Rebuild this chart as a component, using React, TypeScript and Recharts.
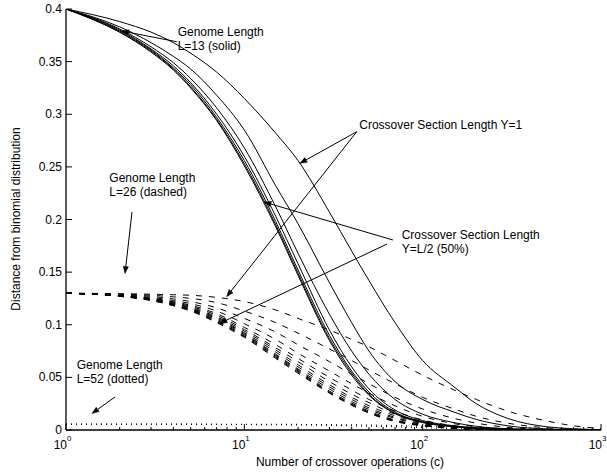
import React from 'react';
import { LineChart, Line, XAxis, YAxis, ReferenceLine, ReferenceDot } from 'recharts';

const FONT = '"Liberation Sans", Arial, Helvetica, sans-serif';

// number of crossover operations (log axis)
const crossovers = [1, 2, 3, 4, 5, 7, 10, 15, 20, 30, 40, 50, 70, 100, 150, 200, 300, 500, 700, 1000];

// Genome length L=13 (solid), crossover section length from Y=1 to Y=L/2
const solidY1 = [0.4, 0.388, 0.378, 0.368, 0.358, 0.34, 0.315, 0.282, 0.256, 0.207, 0.17, 0.142, 0.102, 0.066, 0.041, 0.025, 0.011, 0.003, 0.0012, 0.0004];
const solidY2 = [0.4, 0.383, 0.368, 0.355, 0.343, 0.318, 0.285, 0.232, 0.196, 0.14, 0.102, 0.075, 0.046, 0.029, 0.017, 0.01, 0.004, 0.001, 0.0004, 0.0001];
const solidY3 = [0.4, 0.381, 0.364, 0.349, 0.334, 0.306, 0.268, 0.212, 0.168, 0.11, 0.075, 0.053, 0.029, 0.015, 0.007, 0.0035, 0.0012, 0.0003, 0.0001, 0];
const solidY4 = [0.4, 0.38, 0.362, 0.346, 0.33, 0.3, 0.26, 0.203, 0.158, 0.095, 0.06, 0.039, 0.019, 0.009, 0.004, 0.002, 0.0008, 0.0002, 0.0001, 0];
const solidY5 = [0.4, 0.379, 0.361, 0.344, 0.328, 0.297, 0.256, 0.198, 0.152, 0.09, 0.056, 0.036, 0.017, 0.008, 0.0035, 0.0018, 0.0007, 0.0002, 0.0001, 0];
const solidY6 = [0.4, 0.378, 0.36, 0.343, 0.326, 0.295, 0.253, 0.195, 0.149, 0.087, 0.054, 0.034, 0.016, 0.0075, 0.0033, 0.0016, 0.0006, 0.0001, 0, 0];
const solidY7 = [0.4, 0.378, 0.359, 0.342, 0.325, 0.294, 0.251, 0.193, 0.147, 0.085, 0.052, 0.033, 0.0155, 0.007, 0.003, 0.0015, 0.0005, 0.0001, 0, 0];

// Genome length L=26 (dashed)
const dashY1 = [0.13, 0.1295, 0.129, 0.1285, 0.128, 0.126, 0.122, 0.114, 0.106, 0.095, 0.086, 0.079, 0.066, 0.052, 0.038, 0.029, 0.018, 0.0085, 0.004, 0.0015];
const dashY2 = [0.13, 0.129, 0.128, 0.1265, 0.125, 0.121, 0.113, 0.102, 0.092, 0.077, 0.066, 0.057, 0.044, 0.031, 0.02, 0.013, 0.0065, 0.002, 0.0008, 0.0002];
const dashY3 = [0.13, 0.1285, 0.127, 0.1245, 0.122, 0.116, 0.106, 0.093, 0.081, 0.065, 0.053, 0.044, 0.031, 0.02, 0.011, 0.0065, 0.0025, 0.0006, 0.0002, 0];
const dashY4 = [0.13, 0.128, 0.126, 0.123, 0.12, 0.113, 0.101, 0.086, 0.073, 0.056, 0.044, 0.035, 0.023, 0.013, 0.006, 0.003, 0.001, 0.0002, 0, 0];
const dashY5 = [0.13, 0.1278, 0.1252, 0.122, 0.1185, 0.1105, 0.0975, 0.081, 0.068, 0.05, 0.038, 0.029, 0.018, 0.0095, 0.004, 0.002, 0.0007, 0.0001, 0, 0];
const dashY6 = [0.13, 0.1276, 0.1248, 0.1213, 0.1175, 0.109, 0.0955, 0.078, 0.065, 0.046, 0.034, 0.026, 0.015, 0.008, 0.0033, 0.0016, 0.0005, 0.0001, 0, 0];
const dashY7 = [0.13, 0.1275, 0.1245, 0.1207, 0.1165, 0.1075, 0.094, 0.076, 0.062, 0.043, 0.031, 0.023, 0.0135, 0.0068, 0.0027, 0.0013, 0.0004, 0.0001, 0, 0];
const dashY8 = [0.13, 0.1274, 0.1242, 0.1201, 0.1157, 0.1065, 0.0925, 0.074, 0.06, 0.041, 0.029, 0.021, 0.012, 0.006, 0.0024, 0.0012, 0.0004, 0.0001, 0, 0];
const dashY9 = [0.13, 0.1273, 0.124, 0.1196, 0.115, 0.1055, 0.0915, 0.072, 0.058, 0.039, 0.027, 0.0195, 0.011, 0.0052, 0.002, 0.001, 0.0003, 0.0001, 0, 0];
const dashY10 = [0.13, 0.1272, 0.1237, 0.1192, 0.1145, 0.1045, 0.0905, 0.071, 0.057, 0.037, 0.0255, 0.018, 0.0095, 0.0047, 0.0018, 0.0009, 0.0003, 0.0001, 0, 0];
const dashY11 = [0.13, 0.1271, 0.1235, 0.1188, 0.114, 0.1035, 0.0895, 0.07, 0.056, 0.036, 0.0245, 0.017, 0.009, 0.0044, 0.0017, 0.0008, 0.0003, 0.0001, 0, 0];
const dashY12 = [0.13, 0.127, 0.1232, 0.1184, 0.1135, 0.1028, 0.0888, 0.069, 0.055, 0.0355, 0.024, 0.0165, 0.0085, 0.0042, 0.0016, 0.0008, 0.0003, 0.0001, 0, 0];
const dashY13 = [0.13, 0.127, 0.123, 0.118, 0.113, 0.102, 0.088, 0.068, 0.054, 0.035, 0.0235, 0.016, 0.008, 0.004, 0.0015, 0.0008, 0.0003, 0.0001, 0, 0];

// Genome length L=52 (dotted)
const dotA = [0.0056, 0.0056, 0.0056, 0.0056, 0.0056, 0.0055, 0.0055, 0.0054, 0.0053, 0.0051, 0.0049, 0.0047, 0.0042, 0.0035, 0.0026, 0.0019, 0.001, 0.0003, 0.0001, 0];
const dotB = [0.0054, 0.0054, 0.0054, 0.0054, 0.0053, 0.0053, 0.0052, 0.005, 0.0048, 0.0044, 0.004, 0.0036, 0.003, 0.0022, 0.0013, 0.0008, 0.0003, 0.0001, 0, 0];

const solidSeries = [solidY1, solidY2, solidY3, solidY4, solidY5, solidY6, solidY7];
const dashedSeries = [dashY1, dashY2, dashY3, dashY4, dashY5, dashY6, dashY7, dashY8, dashY9, dashY10, dashY11, dashY12, dashY13];
const dottedSeries = [dotA, dotB];

// axis ticks
const xMajor = [1, 10, 100, 1000];
const xExponents = ['0', '1', '2', '3'];
const xTicks = [1, 2, 3, 4, 5, 6, 7, 8, 9, 10, 20, 30, 40, 50, 60, 70, 80, 90, 100, 200, 300, 400, 500, 600, 700, 800, 900, 1000];
const yTicks = [0, 0.05, 0.1, 0.15, 0.2, 0.25, 0.3, 0.35, 0.4];
const yTickLabels = ['0', '0.05', '0.1', '0.15', '0.2', '0.25', '0.3', '0.35', '0.4'];

// annotations: [c, value] anchors in data space
const notes = [
  { at: [4.23, 0.3748], lines: ['Genome Length', 'L=13 (solid)'] },
  { at: [1.749, 0.2356], lines: ['Genome Length', 'L=26 (dashed)'] },
  { at: [1.148, 0.0575], lines: ['Genome Length', 'L=52 (dotted)'] },
  { at: [44.1, 0.286], lines: ['Crossover Section Length Y=1'] },
  { at: [76.3, 0.1815], lines: ['Crossover Section Length', 'Y=L/2 (50%)'] },
];
const arrows = [
  { from: [4.18, 0.3689], to: [2.05, 0.3791] },
  { from: [2.345, 0.2071], to: [2.142, 0.1487] },
  { from: [1.883, 0.0314], to: [1.399, 0.0157] },
  { from: [42.7, 0.2834], to: [20.5, 0.2534] },
  { from: [42.7, 0.2834], to: [7.96, 0.1267] },
  { from: [68.2, 0.1805], to: [12.9, 0.2166] },
  { from: [63.1, 0.1767], to: [7.3, 0.1014] },
];

const table = crossovers.map((c, i) => {
  const row: Record<string, number> = { c };
  solidSeries.forEach((s, k) => (row[`s${k}`] = s[i]));
  dashedSeries.forEach((s, k) => (row[`d${k}`] = s[i]));
  dottedSeries.forEach((s, k) => (row[`p${k}`] = s[i]));
  return row;
});

const BottomTick = (props: any) => {
  const { x, y, payload } = props;
  const idx = xMajor.indexOf(payload.value);
  const major = idx >= 0;
  return (
    <g>
      <line x1={x} x2={x} y1={y} y2={y - (major ? 6 : 3)} stroke="#000" strokeWidth={1} />
      {major && (
        <g fontFamily={FONT} fill="#000">
          <text x={x + 1} y={y + 19} textAnchor="end" fontSize={12}>10</text>
          <text x={x + 1} y={y + 11} fontSize={8}>{xExponents[idx]}</text>
        </g>
      )}
    </g>
  );
};

const TopTick = (props: any) => {
  const { x, y, payload } = props;
  const major = xMajor.indexOf(payload.value) >= 0;
  return <line x1={x} x2={x} y1={y} y2={y + (major ? 6 : 3)} stroke="#000" strokeWidth={1} />;
};

const LeftTick = (props: any) => {
  const { x, y, payload } = props;
  const idx = yTicks.indexOf(payload.value);
  return (
    <g>
      <line x1={x} x2={x + 6} y1={y} y2={y} stroke="#000" strokeWidth={1} />
      <text x={x - 4} y={y + 4} textAnchor="end" fontSize={12} fontFamily={FONT} fill="#000">
        {yTickLabels[idx]}
      </text>
    </g>
  );
};

const RightTick = (props: any) => {
  const { x, y } = props;
  return <line x1={x} x2={x - 6} y1={y} y2={y} stroke="#000" strokeWidth={1} />;
};

const ArrowShape = (p: any) => {
  const { x1, y1, x2, y2 } = p;
  const dx = x2 - x1;
  const dy = y2 - y1;
  const len = Math.sqrt(dx * dx + dy * dy) || 1;
  const ux = dx / len;
  const uy = dy / len;
  const L = 7;
  const W = 2.6;
  const bx = x2 - ux * L;
  const by = y2 - uy * L;
  const pts = `${x2},${y2} ${bx - uy * W},${by + ux * W} ${bx + uy * W},${by - ux * W}`;
  return (
    <g>
      <line x1={x1} y1={y1} x2={bx} y2={by} stroke="#000" strokeWidth={1} />
      <polygon points={pts} fill="#000" stroke="#000" strokeWidth={0.5} />
    </g>
  );
};

const makeNote = (lines: string[]) => (p: any) => (
  <text x={p.cx} y={p.cy} fontSize={12} fontFamily={FONT} fill="#000">
    {lines.map((t, i) => (
      <tspan key={i} x={p.cx} dy={i === 0 ? 0 : 14}>
        {t}
      </tspan>
    ))}
  </text>
);

export default function App() {
  return (
    <div style={{ position: 'absolute', left: 0, top: 0, width: 607, height: 474, background: '#fff' }}>
      <LineChart width={607} height={474} data={table} margin={{ top: 9, right: 6, bottom: 0, left: 6 }}>
        <XAxis
          xAxisId="b"
          dataKey="c"
          type="number"
          scale="log"
          domain={[1, 1000]}
          allowDataOverflow
          ticks={xTicks}
          interval={0}
          height={44}
          tickSize={0}
          tickMargin={0}
          tickLine={false}
          axisLine={{ stroke: '#000', strokeWidth: 1.3 }}
          tick={<BottomTick />}
        />
        <XAxis
          xAxisId="t"
          orientation="top"
          type="number"
          scale="log"
          domain={[1, 1000]}
          allowDataOverflow
          ticks={xTicks}
          interval={0}
          height={0}
          tickSize={0}
          tickMargin={0}
          tickLine={false}
          axisLine={{ stroke: '#000', strokeWidth: 1.3 }}
          tick={<TopTick />}
        />
        <YAxis
          yAxisId="l"
          type="number"
          domain={[0, 0.4]}
          allowDataOverflow
          ticks={yTicks}
          interval={0}
          width={60}
          tickSize={0}
          tickMargin={0}
          tickLine={false}
          axisLine={{ stroke: '#000', strokeWidth: 1.3 }}
          tick={<LeftTick />}
        />
        <YAxis
          yAxisId="r"
          orientation="right"
          type="number"
          domain={[0, 0.4]}
          allowDataOverflow
          ticks={yTicks}
          interval={0}
          width={0}
          tickSize={0}
          tickMargin={0}
          tickLine={false}
          axisLine={{ stroke: '#000', strokeWidth: 1.3 }}
          tick={<RightTick />}
        />

        {dottedSeries.map((_, k) => (
          <Line
            key={`p${k}`}
            xAxisId="b"
            yAxisId="l"
            dataKey={`p${k}`}
            type="monotone"
            stroke="#000"
            strokeWidth={1.1}
            strokeDasharray="1 4"
            dot={false}
            activeDot={false}
            isAnimationActive={false}
          />
        ))}
        {dashedSeries.map((_, k) => (
          <Line
            key={`d${k}`}
            xAxisId="b"
            yAxisId="l"
            dataKey={`d${k}`}
            type="monotone"
            stroke="#000"
            strokeWidth={1}
            strokeDasharray="6 7"
            dot={false}
            activeDot={false}
            isAnimationActive={false}
          />
        ))}
        {solidSeries.map((_, k) => (
          <Line
            key={`s${k}`}
            xAxisId="b"
            yAxisId="l"
            dataKey={`s${k}`}
            type="monotone"
            stroke="#000"
            strokeWidth={1}
            dot={false}
            activeDot={false}
            isAnimationActive={false}
          />
        ))}

        {arrows.map((a, i) => (
          <ReferenceLine
            key={`a${i}`}
            xAxisId="b"
            yAxisId="l"
            segment={[
              { x: a.from[0], y: a.from[1] },
              { x: a.to[0], y: a.to[1] },
            ]}
            ifOverflow="visible"
            shape={ArrowShape}
          />
        ))}
        {notes.map((n, i) => (
          <ReferenceDot
            key={`n${i}`}
            xAxisId="b"
            yAxisId="l"
            x={n.at[0]}
            y={n.at[1]}
            r={0}
            ifOverflow="visible"
            shape={makeNote(n.lines)}
          />
        ))}

        <text
          x={350}
          y={466}
          textAnchor="middle"
          fontSize={12}
          fontFamily={FONT}
          fill="#000"
        >
          Number of crossover operations (c)
        </text>
        <text
          transform="translate(20,219) rotate(-90)"
          textAnchor="middle"
          fontSize={12}
          fontFamily={FONT}
          fill="#000"
        >
          Distance from binomial distribution
        </text>
      </LineChart>
    </div>
  );
}
